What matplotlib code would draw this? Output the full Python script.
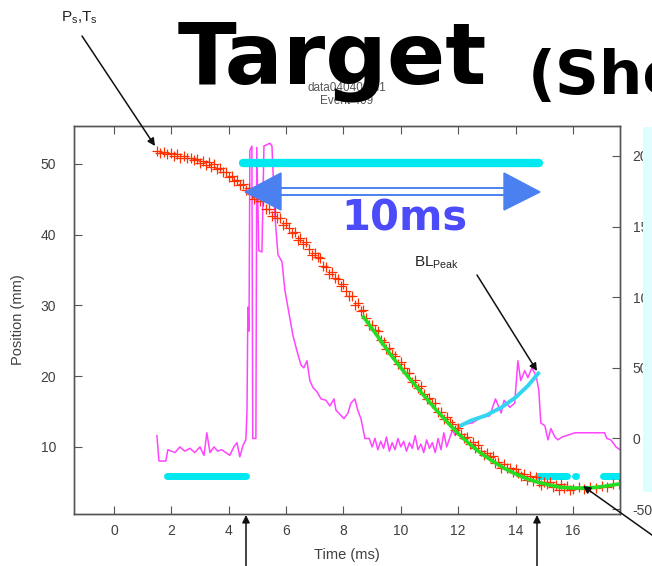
import matplotlib.pyplot as plt
from matplotlib.patches import Polygon, Rectangle, FancyArrowPatch

plt.rcParams['font.family'] = ['Liberation Sans', 'DejaVu Sans']
plt.rcParams['mathtext.fontset'] = 'custom'
plt.rcParams['mathtext.rm'] = 'Liberation Sans'
plt.rcParams['axes.unicode_minus'] = False

# trajectory (position in mm vs time in ms)
red_t = [1.52, 1.62, 1.75, 1.85, 1.98, 2.1, 2.2, 2.32, 2.45, 2.55, 2.68, 2.8, 2.9, 3.0, 3.1, 3.2,
         3.3, 3.4, 3.5, 3.6, 3.7, 3.8, 3.9, 4.0, 4.1, 4.2, 4.3, 4.4,
         4.5, 4.6, 4.7, 4.8, 4.9, 5.0, 5.1, 5.2, 5.3, 5.4, 5.5, 5.6, 5.7, 5.8, 5.9,
         6.0, 6.1, 6.2, 6.3, 6.4, 6.5, 6.6, 6.7, 6.8, 6.9, 7.0, 7.1, 7.2, 7.3, 7.4,
         7.5, 7.6, 7.7, 7.8, 7.9, 8.0, 8.1, 8.2, 8.3, 8.4, 8.5, 8.6, 8.7, 8.8, 8.9,
         9.0, 9.1, 9.2, 9.3, 9.4, 9.5, 9.6, 9.7, 9.8, 9.9, 10.0, 10.1, 10.2, 10.3, 10.4,
         10.5, 10.6, 10.7, 10.8, 10.9, 11.0, 11.1, 11.2, 11.3, 11.4, 11.5, 11.6, 11.7, 11.8, 11.9,
         12.0, 12.1, 12.2, 12.3, 12.4, 12.5, 12.6, 12.7, 12.8, 12.9, 13.0, 13.1, 13.2, 13.3, 13.4,
         13.5, 13.6, 13.7, 13.8, 13.9, 14.0, 14.1, 14.2, 14.3, 14.4, 14.5, 14.6, 14.7, 14.8, 14.9,
         15.0, 15.1, 15.2, 15.3, 15.4, 15.5, 15.6, 15.7, 15.8, 15.9,
         16.0, 16.2, 16.4, 16.6, 16.8, 17.0, 17.2, 17.4, 17.6]
red_y = [51.8, 51.6, 51.7, 51.4, 51.5, 51.1, 51.4, 50.9, 51.2, 50.8, 50.9, 50.5, 50.7, 50.2, 50.4, 49.9,
         50.3, 49.6, 50.0, 49.3, 49.4, 48.8, 48.9, 48.2, 48.3, 47.6, 47.7, 47.0,
         47.2, 46.3, 46.6, 45.7, 45.0, 45.3, 44.7, 44.7, 43.7, 43.7, 42.7, 43.2, 42.4, 42.3, 41.4,
         41.7, 40.9, 40.3, 40.4, 39.3, 39.6, 38.7, 39.0, 38.0, 37.2, 37.4, 36.8, 36.7, 35.6, 35.5,
         34.5, 34.8, 33.9, 33.8, 32.8, 33.0, 32.1, 31.4, 31.4, 30.1, 30.3, 29.2, 29.3, 28.2, 27.3,
         27.3, 26.5, 26.4, 25.1, 24.9, 23.8, 24.0, 23.1, 22.8, 21.8, 22.0, 21.1, 20.4, 20.4, 19.2,
         19.4, 18.4, 18.6, 17.5, 16.8, 16.9, 16.2, 16.2, 15.0, 15.0, 13.9, 14.3, 13.5, 13.3, 12.4,
         12.7, 11.9, 11.3, 11.4, 10.4, 10.7, 9.9, 10.3, 9.4, 8.8, 9.1, 8.6, 8.7, 7.8, 7.9,
         7.1, 7.6, 7.0, 7.1, 6.4, 6.9, 6.3, 5.9, 6.2, 5.3, 5.9, 5.2, 5.8, 5.0, 4.6,
         5.1, 4.8, 5.1, 4.3, 4.6, 3.9, 4.7, 4.2, 4.5, 3.9,
         4.0, 4.3, 4.0, 4.3, 4.2, 4.5, 4.4, 4.8, 4.7]

# fitted trajectory
green_t = [8.7, 9.2, 9.6, 10.0, 10.4, 10.8, 11.2, 11.6, 12.0, 12.4, 12.8, 13.2, 13.6, 14.0, 14.4,
           14.8, 15.2, 15.6, 16.0, 16.4, 16.8, 17.2, 17.64]
green_y = [28.4, 25.6, 23.3, 21.2, 19.2, 17.3, 15.4, 13.6, 11.9, 10.4, 9.1, 8.0, 7.0, 6.2, 5.5,
           5.0, 4.6, 4.3, 4.2, 4.2, 4.3, 4.5, 4.8]

# beam loss signal (right axis)
mag_t = [1.50, 1.57, 1.81, 1.88, 2.13, 2.30, 2.47, 2.65, 2.82, 3.00, 3.14, 3.24, 3.35, 3.49, 3.62,
         3.76, 3.90, 4.04, 4.18, 4.29, 4.39, 4.50, 4.60, 4.64, 4.67, 4.71, 4.74, 4.81, 4.84, 4.95,
         4.98, 5.05, 5.16, 5.23, 5.44, 5.51, 5.61, 5.72, 5.86, 5.96, 6.10, 6.24, 6.38, 6.52, 6.62,
         6.73, 6.83, 6.94, 7.08, 7.22, 7.39, 7.53, 7.67, 7.74, 7.88, 8.02, 8.16, 8.26, 8.40, 8.50,
         8.61, 8.75, 8.9, 9.0, 9.1, 9.2, 9.3, 9.4, 9.5, 9.6, 9.7, 9.8, 9.9, 10.0, 10.1, 10.2, 10.3,
         10.4, 10.5, 10.6, 10.7, 10.8, 10.9, 11.0, 11.1, 11.2, 11.3, 11.4, 11.5, 11.6, 11.7, 11.8,
         11.9, 12.0, 12.2, 12.5, 12.8, 13.1, 13.3, 13.5, 13.6, 13.8, 13.97, 14.08, 14.18, 14.32,
         14.43, 14.57, 14.67, 14.74, 14.81, 14.88, 15.02, 15.13, 15.23, 15.37, 15.48, 15.62, 16.07,
         17.10, 17.18, 17.32, 17.50, 17.64]
mag_v = [2, -16, -16, -8, -10, -6, -9, -7, -10, -6, -12, 4, -10, -6, -9,
         -8, -10, -12, -6, -3, -13, -5, -1, 20, 93, 76, 204, 207, 0, 0,
         206, 133, 132, 207, 209, 207, 158, 130, 125, 105, 89, 73, 62, 52, 50,
         55, 41, 36, 33, 28, 27, 23, 28, 20, 17, 14, 18, 25, 28, 20,
         14, 0, 0, -6, 0, -8, -2, -7, 1, -9, -3, -8, 0, -6, -2, -9, -3,
         -7, 2, -8, -4, -10, -1, -7, -3, -10, 0, -8, 4, -6, 0, 6,
         2, 8, 10, 11, 15, 16, 28, 18, 27, 22, 25, 55, 41, 48,
         43, 50, 46, 42, 34, 11, 9, -1, 7, 1, -1, 1, 4,
         4, 0, -1, -6, -8]

# fit of the beam loss rise (right axis)
blfit_t = [12.03, 12.45, 12.97, 13.5, 14.0, 14.44, 14.79]
blfit_v = [8.5, 12.7, 16.3, 21.9, 29.0, 37.5, 46.0]

# cyan markers: flat top and flat bottom (mm)
flat_top_t = [4.5, 14.8]
flat_top_y = 50.1
flat_low_segs = [(1.5, 1.52), (1.85, 4.6), (14.78, 15.8), (16.08, 16.12), (17.05, 17.7)]
flat_low_y = 5.9

W, H = 652, 566
fig = plt.figure(figsize=(W / 100, H / 100), dpi=100)


def P(x, y):
    # pixel position (from top left) -> figure fraction
    return (x / W, 1 - y / H)


ax = fig.add_axes([74 / W, 1 - 514 / H, (620 - 74) / W, (514 - 126) / H])
ax2 = ax.twinx()
ax.set_zorder(ax2.get_zorder() + 1)
ax.patch.set_visible(False)

ax2.plot(mag_t, mag_v, color='#FF44FF', lw=1.1)
ax2.plot(blfit_t, blfit_v, color='#33D6F0', lw=2.8)

ax.plot(flat_top_t, [flat_top_y] * 2, color='#00E8F0', lw=6, solid_capstyle='round')
for a, b in flat_low_segs:
    ax.plot([a, b], [flat_low_y] * 2, color='#00E8F0', lw=5, solid_capstyle='round')
ax.plot(red_t, red_y, '+', color='#FF3000', ms=6.5, mew=0.9)
ax.plot(green_t, green_y, color='#22DD22', lw=2.6)

ax.set_xlim(-1.39, 17.64)
ax.set_ylim(0.53, 55.37)
ax2.set_ylim(-53.5, 221.2)
ax.set_xticks(range(0, 17, 2))
ax.set_yticks([10, 20, 30, 40, 50])
ax2.set_yticks([-50, 0, 50, 100, 150, 200])

gray = '#404040'
for a in (ax, ax2):
    for s in a.spines.values():
        s.set_color('#555555')
        s.set_linewidth(1)
ax.tick_params(axis='x', direction='in', length=6, top=True, pad=7, labelsize=10,
               colors='#555555', labelcolor=gray)
ax.tick_params(axis='y', direction='in', length=6, right=False, pad=13, labelsize=10,
               colors='#555555', labelcolor=gray)
ax2.tick_params(axis='y', direction='in', length=6, pad=9, labelsize=10,
                colors='#555555', labelcolor=gray)

fig.text(*P(347, 555), 'Time (ms)', ha='center', va='center', fontsize=10.5, color=gray)
fig.text(*P(18, 320), 'Position (mm)', ha='center', va='center', rotation=90,
         fontsize=10.5, color=gray)

# slide title and run info
fig.text(*P(347, 88), 'data040409.d1', ha='center', va='center', fontsize=8.5,
         color='#555555', zorder=1)
fig.text(*P(347, 101), 'Event 409', ha='center', va='center', fontsize=8.5,
         color='#555555', zorder=1)
fig.text(*P(178, 84), 'Target', ha='left', va='baseline', fontsize=62,
         fontweight='bold', family='DejaVu Sans', color='black', zorder=3)
fig.text(*P(528, 94), '(Short', ha='left', va='baseline', fontsize=44,
         fontweight='bold', family='DejaVu Sans', color='black', zorder=3)

# annotations
fig.text(*P(79, 18), r'P$_\mathrm{s}$,T$_\mathrm{s}$', ha='center', va='center', fontsize=11,
         color='#222222')
fig.text(*P(437, 263), r'BL$_\mathrm{Peak}$', ha='center', va='center', fontsize=11,
         color='#222222')


def arrow(x0, y0, x1, y1):
    fig.add_artist(FancyArrowPatch(P(x0, y0), P(x1, y1), transform=fig.transFigure,
                                   arrowstyle='-|>', mutation_scale=11, lw=1.1,
                                   color='#111111', shrinkA=0, shrinkB=0, zorder=4))


arrow(82, 36, 155, 146)
arrow(477, 275, 537, 371)
arrow(666, 545, 583, 486)
arrow(246, 580, 246, 515)
arrow(537, 580, 537, 515)

# 10 ms double arrow
blue = '#4A80F0'
fig.add_artist(Rectangle(P(280, 194.5), (505 - 280) / W, 6.5 / H, transform=fig.transFigure,
                         facecolor='white', edgecolor=blue, lw=1.4, zorder=4))
fig.add_artist(Polygon([P(245, 192), P(281, 173), P(281, 210)], closed=True,
                       transform=fig.transFigure, color=blue, zorder=4))
fig.add_artist(Polygon([P(540, 192), P(504, 173), P(504, 210)], closed=True,
                       transform=fig.transFigure, color=blue, zorder=4))
fig.text(*P(404, 218), '10ms', ha='center', va='center', fontsize=30, fontweight='bold',
         family='DejaVu Sans', color='#4B4BFA', zorder=4)

# light cyan panel at the right edge
fig.add_artist(Rectangle(P(643, 492), 20 / W, (492 - 127) / H, transform=fig.transFigure,
                         facecolor='#DEFFFF', edgecolor='none', zorder=5))

fig.savefig('out.png', dpi=100)
